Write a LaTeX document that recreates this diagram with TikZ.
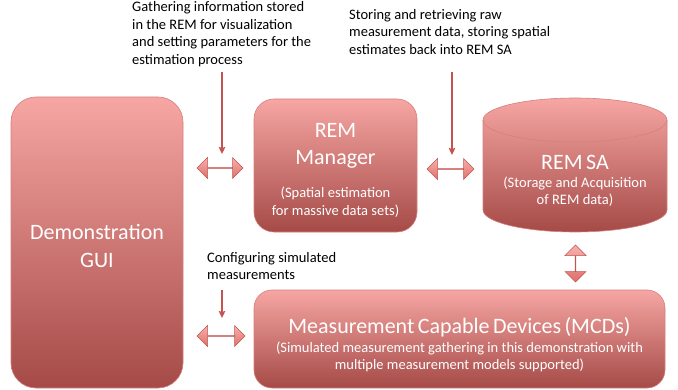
\documentclass[tikz,border=0pt]{standalone}
\usepackage{fontspec}
\setmainfont{Carlito}
\usepackage{xcolor}
\usepackage{tikz}
\usetikzlibrary{shapes.geometric, shapes.arrows, arrows.meta, positioning}
\definecolor{remlight}{RGB}{246,166,163}
\definecolor{remdark}{RGB}{165,74,71}
\definecolor{remedge}{RGB}{214,128,124}
\definecolor{remred}{RGB}{196,84,80}
\definecolor{arrowlight}{RGB}{247,176,173}
\definecolor{arrowdark}{RGB}{222,112,108}

\tikzset{
  block/.style={draw=remedge, line width=0.6pt, top color=remlight, bottom color=remdark,
    text=white, align=center, inner sep=0pt},
  cylbody/.style={draw=remedge, line width=0.6pt, top color=remlight, bottom color=remdark},
  dblarrow/.style={double arrow, draw=remred, line width=0.5pt, top color=arrowlight,
    bottom color=arrowdark, inner sep=0pt, minimum width=21pt,
    double arrow head extend=6.5pt, double arrow tip angle=90},
  note/.style={align=left, inner sep=0pt, anchor=north west, font=\fontsize{14.5}{17.5}\selectfont},
  feed/.style={draw=remred, line width=1.3pt, -{Stealth[length=7pt, width=6.5pt, inset=1pt]}}
}

\begin{document}
\begin{tikzpicture}[x=1pt, y=1pt]
        \useasboundingbox (0,0) rectangle (678,389);

        % main blocks
        \node[block, rounded corners=25pt, minimum width=172pt, minimum height=291pt, text width=165pt] (gui) at (97,146.5) {
            {\fontsize{22}{28}\selectfont \rule{0pt}{23pt}Demonstration\\GUI\par}
        };
        \node[block, rounded corners=20pt, minimum width=163pt, minimum height=133pt, text width=160pt] (mgr) at (335.5,223.5) {
            {\fontsize{22}{27}\selectfont \rule{0pt}{24pt}REM\\Manager\par}\vspace{15pt}
            {\fontsize{14.5}{18}\selectfont (Spatial estimation\\for massive data sets)\par}
        };

        % storage cylinder
        \path[cylbody] (483,269) -- (483,179) arc[start angle=180, end angle=360, x radius=92pt, y radius=22pt]
            -- (667,269) arc[start angle=0, end angle=180, x radius=92pt, y radius=22pt] -- cycle;
        \draw[remedge, line width=0.6pt] (483,269) arc[start angle=180, end angle=360, x radius=92pt, y radius=22pt];
        \node[text=white, align=center, inner sep=0pt, text width=180pt] (sa) at (575,208) {
            {\fontsize{22}{26}\selectfont REM SA\par}\vspace{1.5pt}
            {\fontsize{14.5}{17}\selectfont (Storage and Acquisition\\of REM data)\par}
        };

        \node[block, rounded corners=18pt, minimum width=411pt, minimum height=98pt, text width=405pt] (mcd) at (459.5,50) {
            {\fontsize{22}{27}\selectfont \rule{0pt}{26.5pt}Measurement Capable Devices (MCDs)\par}\vspace{3pt}
            {\fontsize{14.5}{16.5}\selectfont (Simulated measurement gathering in this demonstration with\\multiple measurement models supported)\par}
        };

        % block arrows between the blocks
        \node[dblarrow, minimum height=46pt] (a1) at (220,221) {};
        \node[dblarrow, minimum height=47pt] (a2) at (450.5,220) {};
        \node[dblarrow, minimum height=37pt, rotate=90] (a3) at (575.5,125.5) {};
        \node[dblarrow, minimum height=48pt] (a4) at (221,53) {};

        % explanations
        \node[note] (cap1) at (132,387.5) {Gathering information stored\\in the REM for visualization\\and setting parameters for the\\estimation process};
        \node[note] (cap2) at (349,380) {Storing and retrieving raw\\measurement data, storing spatial\\estimates back into REM SA};
        \node[note] (cap3) at (207,137) {Configuring simulated\\measurements};

        \coordinate (f1) at (222,317);
        \coordinate (f2) at (452,317);
        \coordinate (f3) at (222,99);
        \coordinate (t1) at ([yshift=14pt]a1.center);
        \coordinate (t2) at ([yshift=14pt]a2.center);
        \coordinate (t3) at ([yshift=18pt]a4.center);
        \draw[feed] (f1) -- (f1 |- t1);
        \draw[feed] (f2) -- (f2 |- t2);
        \draw[feed] (f3) -- (f3 |- t3);
    \end{tikzpicture}
\end{document}
